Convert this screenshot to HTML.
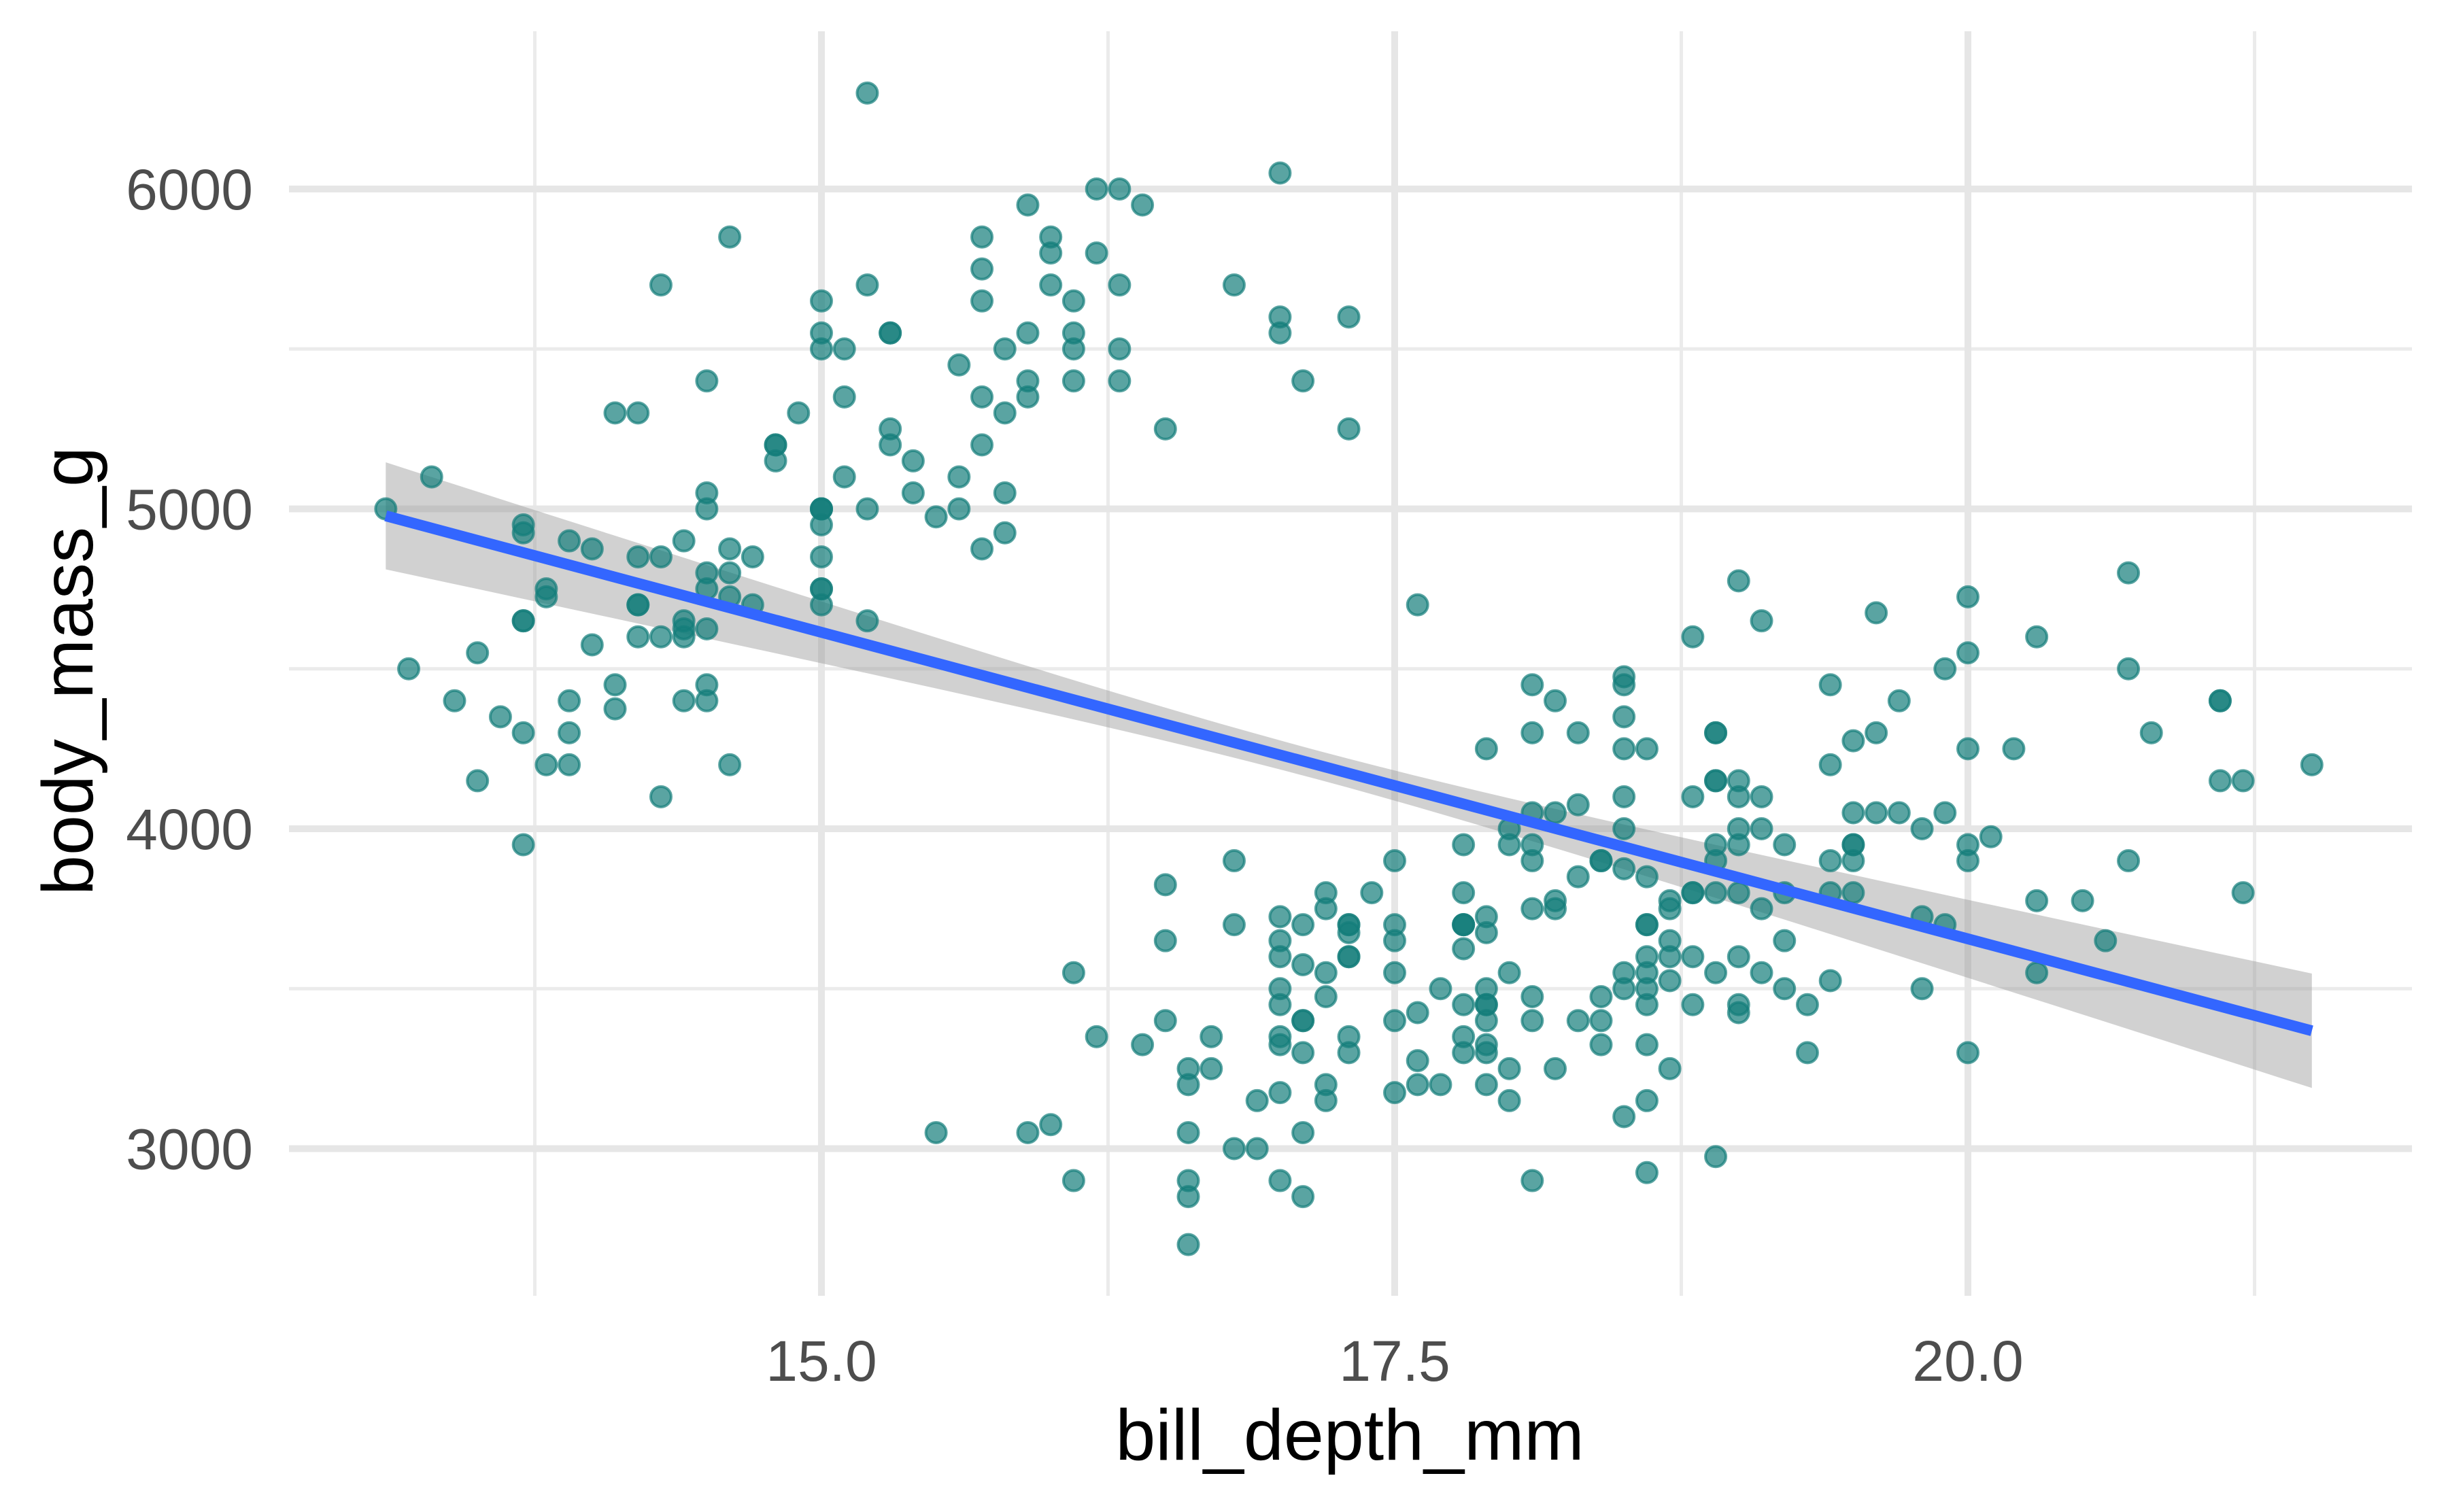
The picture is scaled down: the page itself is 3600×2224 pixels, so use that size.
<!DOCTYPE html>
<html><head><meta charset="utf-8"><style>
html,body{margin:0;padding:0;background:#fff;}
svg{display:block;}
</style></head><body>
<svg id="chart" xmlns="http://www.w3.org/2000/svg" width="3600" height="2224" viewBox="0 0 3600 2224" font-family="Liberation Sans, Arial, sans-serif">
<rect width="3600" height="2224" fill="#fff"/>
<g id="grid"></g>
<g id="ribbon"></g>
<g id="points"></g>
<g id="trend"></g>
<g id="axes"></g>
<text x="1985" y="2147" font-size="106" text-anchor="middle" fill="#000">bill_depth_mm</text>
<text transform="translate(136,987) rotate(-90)" font-size="106" text-anchor="middle" fill="#000">body_mass_g</text>
</svg>
<script>
const xTicks = [15.0, 17.5, 20.0];
const xTickLabels = ["15.0", "17.5", "20.0"];
const xMinor = [13.75, 16.25, 18.75, 21.25];
const yTicks = [3000, 4000, 5000, 6000];
const yTickLabels = ["3000", "4000", "5000", "6000"];
const yMinor = [3500, 4500, 5500];
const fitIntercept = 7488.65;
const fitSlope = -191.64;
const fitRange = [13.1, 21.5];
const seCenter = 17.15;
const seBase = 45;
const seSlope = 39.8;
const billDepth = [13.1,13.3,13.2,13.4,13.5,13.5,13.6,13.7,13.7,13.7,13.7,13.7,13.7,13.8,13.8,13.8,13.9,13.9,13.9,13.9,14.0,14.0,14.1,14.1,14.1,14.2,14.2,14.2,14.2,14.2,14.3,14.3,14.3,14.3,14.4,14.4,14.4,14.4,14.4,14.5,14.5,14.5,14.5,14.5,14.5,14.5,14.5,14.6,14.6,14.6,14.6,14.6,14.7,14.7,14.8,14.8,14.8,14.9,15.0,15.0,15.0,15.0,15.0,15.0,15.0,15.0,15.0,15.0,15.0,15.1,15.1,15.1,15.2,15.2,15.2,15.2,15.3,15.3,15.3,15.3,15.4,15.4,15.5,15.5,15.6,15.6,15.6,15.7,15.7,15.7,15.7,15.7,15.7,15.8,15.8,15.8,15.8,15.9,15.9,15.9,15.9,15.9,16.0,16.0,16.0,16.0,16.1,16.1,16.1,16.1,16.1,16.1,16.2,16.2,16.2,16.3,16.3,16.3,16.3,16.4,16.4,16.5,16.5,16.5,16.5,16.6,16.6,16.6,16.6,16.6,16.6,16.7,16.7,16.8,16.8,16.8,16.8,16.9,16.9,17.0,17.0,17.0,17.0,17.0,17.0,17.0,17.0,17.0,17.0,17.0,17.0,17.1,17.1,17.1,17.1,17.1,17.1,17.1,17.1,17.2,17.2,17.2,17.2,17.2,17.2,17.3,17.3,17.3,17.3,17.3,17.3,17.3,17.3,17.3,17.4,17.5,17.5,17.5,17.5,17.5,17.5,17.6,17.6,17.6,17.6,17.7,17.7,17.8,17.8,17.8,17.8,17.8,17.8,17.8,17.8,17.8,17.9,17.9,17.9,17.9,17.9,17.9,17.9,17.9,17.9,17.9,18.0,18.0,18.0,18.0,18.0,18.1,18.1,18.1,18.1,18.1,18.1,18.1,18.1,18.1,18.2,18.2,18.2,18.2,18.2,18.3,18.3,18.3,18.3,18.4,18.4,18.4,18.4,18.4,18.5,18.5,18.5,18.5,18.5,18.5,18.5,18.5,18.5,18.5,18.6,18.6,18.6,18.6,18.6,18.6,18.6,18.6,18.6,18.6,18.6,18.7,18.7,18.7,18.7,18.7,18.7,18.8,18.8,18.8,18.8,18.8,18.8,18.9,18.9,18.9,18.9,18.9,18.9,18.9,18.9,18.9,19.0,19.0,19.0,19.0,19.0,19.0,19.0,19.0,19.0,19.1,19.1,19.1,19.1,19.1,19.2,19.2,19.2,19.2,19.3,19.3,19.4,19.4,19.4,19.4,19.4,19.5,19.5,19.5,19.5,19.5,19.5,19.6,19.6,19.6,19.7,19.7,19.8,19.8,19.8,19.9,19.9,19.9,20.0,20.0,20.0,20.0,20.0,20.0,20.1,20.2,20.3,20.3,20.3,20.5,20.6,20.7,20.7,20.7,20.8,21.1,21.1,21.1,21.2,21.2,21.5];
const bodyMass = [5000,5100,4500,4400,4550,4150,4350,4950,4925,4650,4650,4300,3950,4750,4725,4200,4900,4400,4300,4200,4875,4575,5300,4450,4375,5300,4850,4700,4700,4600,5700,4850,4600,4100,4900,4650,4625,4600,4400,5400,5050,5000,4800,4750,4625,4450,4400,5850,4875,4800,4725,4200,4850,4700,5200,5200,5150,5300,5650,5550,5500,5000,5000,5000,4950,4850,4750,4750,4700,5500,5350,5100,6300,5700,5000,4650,5550,5550,5250,5200,5150,5050,4975,3050,5450,5100,5000,5850,5750,5650,5350,5200,4875,5300,5050,4925,5500,5950,5550,5400,5350,3050,5850,5800,5700,3075,5650,5550,5500,5400,3550,2900,6000,5800,3350,6000,5700,5500,5400,5950,3325,5250,3825,3650,3400,3250,3200,3050,2900,2850,2700,3350,3250,5700,3900,3700,3000,3150,3000,6050,5600,5550,3725,3650,3600,3500,3450,3350,3325,3175,2900,5400,3700,3575,3400,3400,3300,3050,2850,3800,3750,3550,3475,3200,3150,5600,5250,3700,3700,3675,3600,3600,3350,3300,3800,3900,3700,3650,3550,3400,3175,4700,3425,3275,3200,3500,3200,3950,3800,3700,3700,3700,3625,3450,3350,3300,4250,3725,3675,3500,3450,3450,3400,3325,3300,3200,4000,3950,3550,3250,3150,4450,4300,4050,3950,3900,3750,3475,3400,2900,4400,4050,3775,3750,3250,4300,4075,3850,3400,3900,3900,3475,3400,3325,4475,4450,4350,4250,4100,4000,3875,3550,3500,3100,4250,3850,3700,3700,3600,3550,3500,3450,3325,3150,2925,3775,3750,3650,3600,3525,3250,4600,4100,3800,3800,3600,3450,4300,4300,4150,4150,3950,3900,3800,3550,2975,4775,4150,4100,4000,3950,3800,3600,3450,3425,4650,4100,4000,3750,3550,3950,3800,3650,3500,3450,3300,4450,4200,3900,3800,3525,4275,4050,3950,3950,3900,3800,4675,4300,4050,4400,4050,3725,3500,4000,4500,4050,3700,4725,4550,4250,3950,3900,3300,3975,4250,4600,3775,3550,3775,3650,4800,4500,3900,4300,4400,4400,4150,4150,3800,4200];

const NS = "http://www.w3.org/2000/svg";
const X0 = 425, X1 = 3547, YT = 46, YB = 1906;
function xs(v){ return 1208 + (v - 15) * 337.2; }
function ys(v){ return 278 + (6000 - v) * 0.4705; }
function mk(tag, attrs, parent){
  const e = document.createElementNS(NS, tag);
  for (const k in attrs) e.setAttribute(k, attrs[k]);
  parent.appendChild(e);
  return e;
}
const grid = document.getElementById('grid');
yMinor.forEach(v => {
  const l = mk('line', {x1:X0, x2:X1, y1:ys(v), y2:ys(v), stroke:'#ebebeb', 'stroke-width':5}, grid);
  
  
});
xMinor.forEach(v => {
  const l = mk('line', {x1:xs(v), x2:xs(v), y1:YT, y2:YB, stroke:'#ebebeb', 'stroke-width':5}, grid);
  
  
});
yTicks.forEach(v => {
  const l = mk('line', {x1:X0, x2:X1, y1:ys(v), y2:ys(v), stroke:'#e6e6e6', 'stroke-width':10}, grid);
  
  
});
xTicks.forEach(v => {
  const l = mk('line', {x1:xs(v), x2:xs(v), y1:YT, y2:YB, stroke:'#e6e6e6', 'stroke-width':10}, grid);
  
  
});

const ribbon = document.getElementById('ribbon');
const N = 60, up = [], lo = [];
for (let i = 0; i <= N; i++){
  const x = fitRange[0] + (fitRange[1] - fitRange[0]) * i / N;
  const yhat = fitIntercept + fitSlope * x;
  const h = Math.sqrt(seBase*seBase + seSlope*seSlope*(x-seCenter)*(x-seCenter));
  up.push(xs(x).toFixed(1) + ',' + ys(yhat + h).toFixed(1));
  lo.unshift(xs(x).toFixed(1) + ',' + ys(yhat - h).toFixed(1));
}
const rb = mk('polygon', {points: up.concat(lo).join(' '), fill:'#999999', 'fill-opacity':0.45}, ribbon);



const pts = document.getElementById('points');
for (let i = 0; i < billDepth.length; i++){
  const c = mk('circle', {cx:xs(billDepth[i]), cy:ys(bodyMass[i]), r:15, fill:'rgb(20,125,122)', 'fill-opacity':0.7, stroke:'rgb(20,125,122)', 'stroke-opacity':0.7, 'stroke-width':4}, pts);
  
  
}

const trend = document.getElementById('trend');
const tl = mk('line', {x1:xs(fitRange[0]), y1:ys(fitIntercept + fitSlope*fitRange[0]), x2:xs(fitRange[1]), y2:ys(fitIntercept + fitSlope*fitRange[1]), stroke:'#3366FF', 'stroke-width':16}, trend);



const axes = document.getElementById('axes');
xTicks.forEach((v, i) => {
  const t = mk('text', {x:xs(v), y:2031, 'font-size':84, 'text-anchor':'middle', fill:'#4d4d4d'}, axes);
  t.textContent = xTickLabels[i];
  
  
});
yTicks.forEach((v, i) => {
  const t = mk('text', {x:372, y:ys(v) + 30, 'font-size':84, 'text-anchor':'end', fill:'#4d4d4d'}, axes);
  t.textContent = yTickLabels[i];
  
  
});
</script>
</body></html>
